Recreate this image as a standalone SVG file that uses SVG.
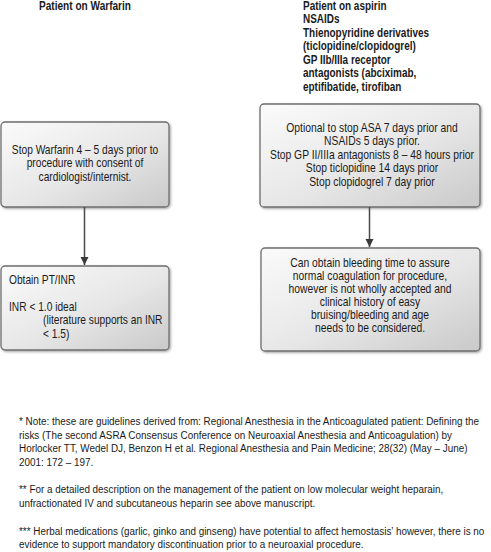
<svg xmlns="http://www.w3.org/2000/svg" width="491" height="552" viewBox="0 0 491 552">
<style>
text{font-family:"Liberation Sans Narrow","Liberation Sans",Arial,sans-serif;fill:#1a1a1a;}
.h{font-size:12px;font-weight:bold;}
.b{font-size:12px;}
.c{text-anchor:middle;}
.f{font-size:11.5px;}
.box{fill:url(#g);stroke:#6e6e6e;stroke-width:1.3;filter:url(#sh);}
.conn{stroke:#4a4a4a;stroke-width:1.5;fill:none;marker-end:url(#ah);}
</style>
<defs>
<linearGradient id="g" x1="0" y1="0" x2="1" y2="1">
<stop offset="0" stop-color="#fbfbfb"/>
<stop offset="0.55" stop-color="#e6e6e6"/>
<stop offset="1" stop-color="#c9c9c9"/>
</linearGradient>
<filter id="sh" x="-5%" y="-5%" width="112%" height="115%">
<feDropShadow dx="1.2" dy="1.2" stdDeviation="0.8" flood-color="#000" flood-opacity="0.35"/>
</filter>
<marker id="ah" viewBox="0 0 8 10" refX="8" refY="5" markerWidth="8" markerHeight="10" markerUnits="userSpaceOnUse" orient="auto">
<path d="M0,1 L8,5 L0,9 Z" fill="#3a3a3a"/>
</marker>
</defs>

<g id="header-warfarin">
<g transform="translate(85,0) scale(0.84,1)">
<text class="h c" x="0" y="10">Patient on Warfarin</text>
</g>
</g>

<g id="header-aspirin">
<g transform="translate(303,0) scale(0.83,1)">
<text class="h" x="0" y="10">Patient on aspirin</text>
<text class="h" x="0" y="23.5">NSAIDs</text>
<text class="h" x="0" y="37">Thienopyridine derivatives</text>
<text class="h" x="0" y="50.5">(ticlopidine/clopidogrel)</text>
<text class="h" x="0" y="64">GP IIb/IIIa receptor</text>
<text class="h" x="0" y="77.5">antagonists (abciximab,</text>
<text class="h" x="0" y="91">eptifibatide, tirofiban</text>
</g>
</g>

<g id="node-stop-warfarin">
<rect class="box" x="1" y="122" width="168" height="85" rx="4"/>
<g transform="translate(85,0) scale(0.85,1)">
<text class="b c" x="0" y="154">Stop Warfarin 4 – 5 days prior to</text>
<text class="b c" x="0" y="167.5">procedure with consent of</text>
<text class="b c" x="0" y="181">cardiologist/internist.</text>
</g>
</g>

<g id="node-obtain-inr">
<rect class="box" x="1" y="266" width="168" height="84" rx="4"/>
<g transform="translate(9,0) scale(0.85,1)">
<text class="b" x="0" y="284">Obtain PT/INR</text>
<text class="b" x="0" y="311">INR &lt; 1.0 ideal</text>
<text class="b" x="40" y="324.5">(literature supports an INR</text>
<text class="b" x="40" y="338">&lt; 1.5)</text>
</g>
</g>

<g id="node-stop-antiplatelet">
<rect class="box" x="260" y="104" width="220" height="103" rx="4"/>
<g transform="translate(372,0) scale(0.86,1)">
<text class="b c" x="0" y="132">Optional to stop ASA 7 days prior and</text>
<text class="b c" x="0" y="145.5">NSAIDs 5 days prior.</text>
<text class="b c" x="0" y="159">Stop GP II/IIIa antagonists 8 – 48 hours prior</text>
<text class="b c" x="0" y="172.5">Stop ticlopidine 14 days prior</text>
<text class="b c" x="0" y="186">Stop clopidogrel 7 day prior</text>
</g>
</g>

<g id="node-bleeding-time">
<rect class="box" x="261" y="248" width="219" height="103" rx="4"/>
<g transform="translate(370,0) scale(0.86,1)">
<text class="b c" x="0" y="267">Can obtain bleeding time to assure</text>
<text class="b c" x="0" y="280">normal coagulation for procedure,</text>
<text class="b c" x="0" y="293">however is not wholly accepted and</text>
<text class="b c" x="0" y="306">clinical history of easy</text>
<text class="b c" x="0" y="319">bruising/bleeding and age</text>
<text class="b c" x="0" y="332">needs to be considered.</text>
</g>
</g>

<g id="connectors">
<line class="conn" x1="84.5" y1="207" x2="84.5" y2="265"/>
<line class="conn" x1="369.5" y1="207" x2="369.5" y2="247"/>
</g>

<g id="footnotes">
<g transform="translate(19,0) scale(0.86,1)">
<text class="f" x="0" y="425">* Note: these are guidelines derived from: Regional Anesthesia in the Anticoagulated patient: Defining the</text>
<text class="f" x="0" y="438.7">risks (The second ASRA Consensus Conference on Neuroaxial Anesthesia and Anticoagulation) by</text>
<text class="f" x="0" y="452.4">Horlocker TT, Wedel DJ, Benzon H et al. Regional Anesthesia and Pain Medicine; 28(32) (May – June)</text>
<text class="f" x="0" y="466.1">2001: 172 – 197.</text>
<text class="f" x="0" y="493.5">** For a detailed description on the management of the patient on low molecular weight heparain,</text>
<text class="f" x="0" y="507.2">unfractionated IV and subcutaneous heparin see above manuscript.</text>
<text class="f" x="0" y="534.6">*** Herbal medications (garlic, ginko and ginseng) have potential to affect hemostasis’ however, there is no</text>
<text class="f" x="0" y="548.3">evidence to support mandatory discontinuation prior to a neuroaxial procedure.</text>
</g>
</g>
</svg>
